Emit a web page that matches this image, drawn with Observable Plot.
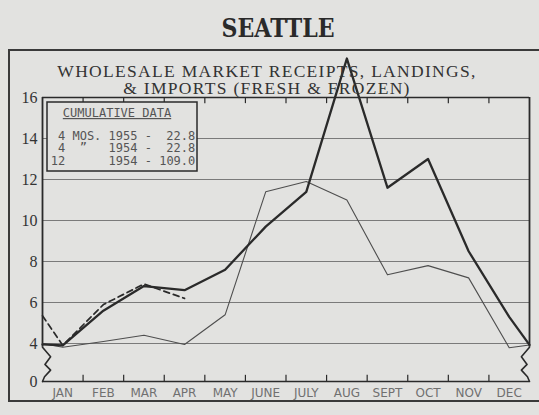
<!DOCTYPE html>
<html>
<head>
<meta charset="utf-8">
<script src="https://cdn.jsdelivr.net/npm/d3@7"></script>
<script src="https://cdn.jsdelivr.net/npm/@observablehq/plot@0.6"></script>
<style>
  html, body { margin: 0; padding: 0; background: #e2e2e0; }
  #chart { position: relative; width: 539px; height: 415px; overflow: hidden; }
  svg { overflow: visible; }
</style>
</head>
<body>
<div id="chart"></div>
<script>
// ---- data ----
const months = ["JAN", "FEB", "MAR", "APR", "MAY", "JUNE", "JULY", "AUG", "SEPT", "OCT", "NOV", "DEC"];
const yTicks = [0, 4, 6, 8, 10, 12, 14, 16];
const gridValues = [4, 6, 8, 10, 12, 14];
const monthBoundaries = [1, 2, 3, 4, 5, 6, 7, 8, 9, 10, 11];

// heavy solid line (1954), millions of pounds
const values1954 = [3.8, 5.6, 6.8, 6.6, 7.6, 9.7, 11.4, 17.9, 11.6, 13.0, 8.5, 5.3];
const start1954 = 3.9, end1954 = 3.85;
// light solid line
const valuesLight = [3.6, 4.1, 4.4, 3.9, 5.4, 11.4, 11.9, 11.0, 7.35, 7.8, 7.2, 3.55];
const startLight = 4.0, endLight = 3.85;
// dashed line (1955, first four months)
const values1955 = [3.8, 5.9, 6.9, 6.2];
const start1955 = 5.35;

// axis-break zigzag shape (month offset, value)
const breakShape = [[0, 3.6], [0.2, 2.6], [0.06, 1.8], [0.2, 1.2], [0.05, 0.5], [0, 0]];

const title = "SEATTLE";
const subtitle1 = "WHOLESALE MARKET RECEIPTS, LANDINGS,";
const subtitle2 = "& IMPORTS (FRESH & FROZEN)";
const legendTitle = "CUMULATIVE DATA";
const legendRows = ["4 MOS. 1955 -  22.8", "4  \u201D   1954 -  22.8", "12      1954 - 109.0"];

// ---- build point series ----
function series(vals, start, end) {
  const pts = [{x: 0, y: start}];
  vals.forEach((v, i) => pts.push({x: i + 0.5, y: v}));
  if (end !== undefined) pts.push({x: 12, y: end});
  return pts;
}
const pts1954 = series(values1954, start1954, end1954);
const ptsLight = series(valuesLight, startLight, endLight);
const pts1955 = series(values1955, start1955);
const leftBreak = breakShape.map(([dx, y]) => ({x: 0 + dx, y}));
const rightBreak = breakShape.map(([dx, y]) => ({x: 12 - dx, y}));

// broken y axis: 0..4 is compressed (axis break)
const breakFactor = (38 / 20.5) / 4;
const yBreak = v => (v >= 4 ? v : 4 - (4 - v) * breakFactor);

const ink = "#2a2a2a";

const plot = Plot.plot({
  width: 539,
  height: 415,
  marginLeft: 42,
  marginRight: 10,
  marginTop: 97,
  marginBottom: 34,
  style: {background: "transparent", overflow: "visible"},
  x: {domain: [0, 12], axis: null},
  y: {transform: yBreak, domain: [yBreak(0), 16], axis: null},
  marks: [
    Plot.ruleY(gridValues, {x1: () => 0, x2: () => 12, stroke: "#7a7a7a", strokeWidth: 1}),
    Plot.ruleY([16, 0], {x1: () => 0, x2: () => 12, stroke: ink, strokeWidth: 1.6}),
    Plot.ruleX([0, 12], {y1: () => 3.6, y2: () => 16, stroke: ink, strokeWidth: 1.8}),
    Plot.line(leftBreak, {x: "x", y: "y", stroke: ink, strokeWidth: 1.6}),
    Plot.line(rightBreak, {x: "x", y: "y", stroke: ink, strokeWidth: 1.6}),
    Plot.ruleX(monthBoundaries, {y1: () => 16, y2: () => 15.7, stroke: ink, strokeWidth: 1.2}),
    Plot.ruleX(monthBoundaries, {y1: () => 0, y2: () => 0.65, stroke: ink, strokeWidth: 1.2}),
    Plot.line(ptsLight, {x: "x", y: "y", stroke: "#4e4e4e", strokeWidth: 1.1}),
    Plot.line(pts1954, {x: "x", y: "y", stroke: ink, strokeWidth: 2.3}),
    Plot.line(pts1955, {x: "x", y: "y", stroke: ink, strokeWidth: 1.7, strokeDasharray: "6,4"}),
    Plot.text(yTicks, {x: () => 0, y: d => d, dx: -5, textAnchor: "end", fontFamily: "Liberation Serif", fontSize: 16, fill: "#333"}),
    Plot.text(months, {x: (d, i) => i + 0.5, y: () => 0, dy: 12, fontFamily: "DejaVu Sans", fontSize: 12, fill: "#707070"})
  ]
});

document.getElementById("chart").appendChild(plot);

// ---- decorations: outer frame, titles, legend box ----
const svg = d3.select(plot);
svg.insert("rect", ":first-child")
  .attr("x", 9).attr("y", 50).attr("width", 600).attr("height", 351)
  .attr("fill", "none").attr("stroke", "#3a3a3a").attr("stroke-width", 2);

svg.append("text").text(title)
  .attr("x", 278).attr("y", 37).attr("text-anchor", "middle")
  .attr("font-family", "DejaVu Serif").attr("font-weight", "bold")
  .attr("font-size", 26)
  .attr("textLength", 113).attr("lengthAdjust", "spacingAndGlyphs")
  .attr("fill", ink);

svg.append("text").text(subtitle1)
  .attr("x", 267).attr("y", 77).attr("text-anchor", "middle")
  .attr("font-family", "Liberation Serif").attr("font-size", 17.5)
  .attr("letter-spacing", 1.3).attr("fill", "#333");
svg.append("text").text(subtitle2)
  .attr("x", 267).attr("y", 94).attr("text-anchor", "middle")
  .attr("font-family", "Liberation Serif").attr("font-size", 17.5)
  .attr("letter-spacing", 1.3).attr("fill", "#333");

const lg = svg.append("g");
lg.append("rect").attr("x", 47).attr("y", 102).attr("width", 150).attr("height", 69)
  .attr("fill", "#e2e2e0").attr("stroke", ink).attr("stroke-width", 1.5);
lg.append("text").text(legendTitle)
  .attr("x", 117).attr("y", 117).attr("text-anchor", "middle")
  .attr("font-family", "DejaVu Sans Mono").attr("font-size", 12).attr("fill", "#555")
  .attr("text-decoration", "underline");
const rowX = [58, 58, 50.8];
const rowY = [140, 152, 165];
legendRows.forEach((r, i) => {
  lg.append("text").text(r)
    .attr("x", rowX[i]).attr("y", rowY[i])
    .attr("text-anchor", "start")
    .attr("xml:space", "preserve")
    .style("white-space", "pre")
    .attr("font-family", "DejaVu Sans Mono").attr("font-size", 12).attr("fill", "#555");
});
</script>
</body>
</html>
